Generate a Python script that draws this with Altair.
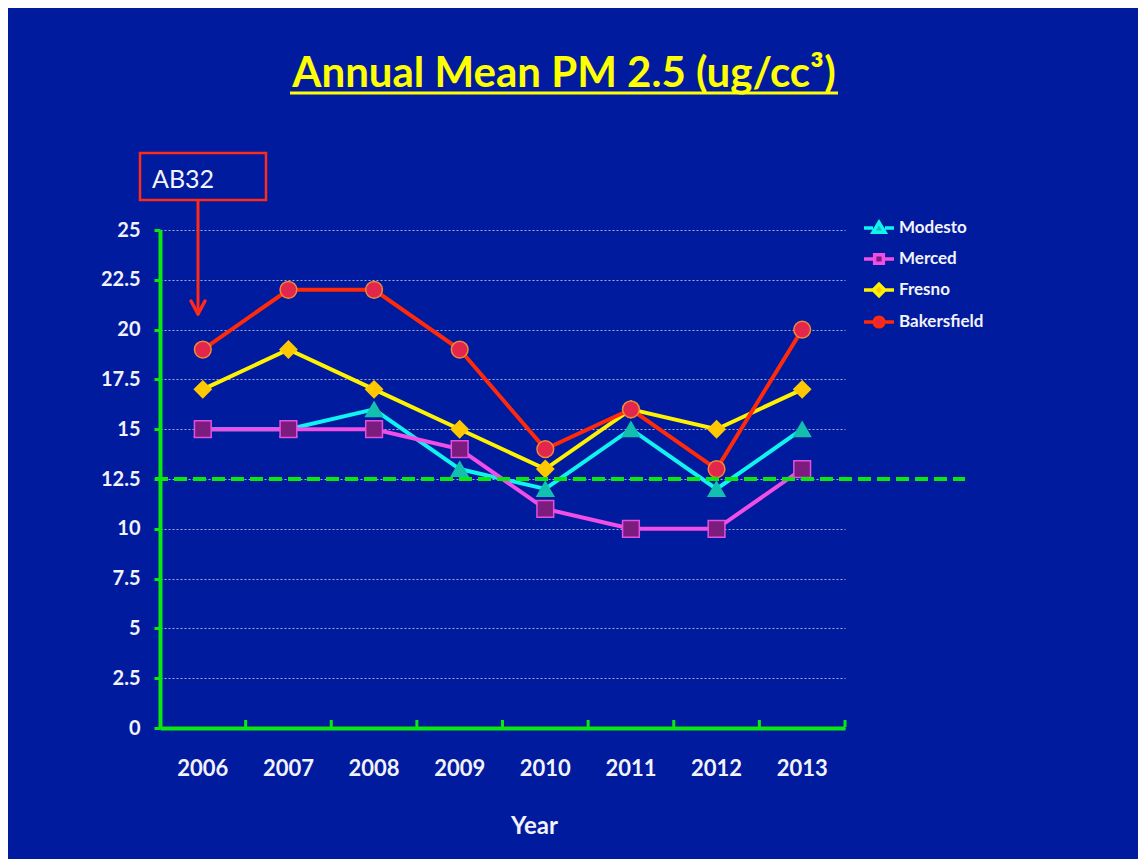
import altair as alt
import pandas as pd

# ---- data ----
years = ["2006", "2007", "2008", "2009", "2010", "2011", "2012", "2013"]
series = ["Modesto", "Merced", "Fresno", "Bakersfield"]
modesto = [15, 15, 16, 13, 12, 15, 12, 15]
merced = [15, 15, 15, 14, 11, 10, 10, 13]
fresno = [17, 19, 17, 15, 13, 16, 15, 17]
bakersfield = [19, 22, 22, 19, 14, 16, 13, 20]
standard = [12.5]
y_ticks = [0, 2.5, 5, 7.5, 10, 12.5, 15, 17.5, 20, 22.5, 25]
title_text = ["Annual Mean PM 2.5 (ug/cc³)"]
note_text = ["AB32"]
x_title = "Year"

# ---- styles ----
BG = "#011B9E"
GREEN = "#0BE80B"
WHITE = "#F2F2FA"
RED = "#FF2A1A"
FONT = "Lato"
line_colors = ["#12F2EE", "#F24EE6", "#FFF200", "#FF2A0A"]
marker_fills = ["#13BFAF", "#7C1C7E", "#FFC800", "#E2264C"]
marker_strokes = ["#13BFAF", "#E64EE0", "#FFC800", "#F08838"]
shapes = ["triangle-up", "square", "diamond", "circle"]
legend_paths = [
    "M-1,0H-0.4M0.4,0H1M0,-0.38L0.4,0.28L-0.4,0.28Z",
    "M-1,0H-0.3M0.3,0H1M-0.29,-0.29H0.29V0.29H-0.29Z",
    "M-1,0H-0.38M0.38,0H1M-0.38,0L0,-0.38L0.38,0L0,0.38Z",
    "M-1,0H-0.32M0.32,0H1M-0.32,0A0.32,0.32,0,1,0,0.32,0A0.32,0.32,0,1,0,-0.32,0Z",
]

W, H = 685, 498

df = pd.DataFrame({
    "year": years * 4,
    "series": sum([[s] * len(years) for s in series], []),
    "value": modesto + merced + fresno + bakersfield,
})

x_scale = alt.Scale(domain=years, paddingInner=0, paddingOuter=0)
x_axis = alt.Axis(
    title=x_title, labelAngle=0, labelFont=FONT, labelFontSize=22, labelFontWeight="bold",
    labelColor=WHITE, labelPadding=30, ticks=False, grid=False,
    domainColor=GREEN, domainWidth=4,
    titleFont=FONT, titleFontSize=24, titleFontWeight="bold", titleColor=WHITE,
    titleX=374, titleY=105, titleBaseline="alphabetic",
)
y_scale = alt.Scale(domain=[0, 25], nice=False)
y_axis = alt.Axis(
    title=None, values=y_ticks, labelExpr="'' + datum.value",
    labelFont=FONT, labelFontSize=20, labelFontWeight="bold", labelColor=WHITE, labelPadding=14,
    grid=True, gridColor="#A8AEDC", gridDash=[2, 2], gridWidth=1,
    domainColor=GREEN, domainWidth=4, tickColor=GREEN, tickSize=6, tickWidth=3,
)

legend = alt.Legend(
    title=None, orient="none", legendX=702, legendY=-19, symbolSize=900,
    labelFont=FONT, labelFontSize=17, labelFontWeight="bold", labelColor=WHITE,
    labelOffset=3, rowPadding=2, padding=0, symbolStrokeWidth=3.5, symbolOpacity=1,
)

base = alt.Chart(df).encode(
    x=alt.X("year:N", scale=x_scale, axis=x_axis),
    y=alt.Y("value:Q", scale=y_scale, axis=y_axis),
)

lines = base.mark_line(strokeWidth=4).encode(
    color=alt.Color("series:N", scale=alt.Scale(domain=series, range=line_colors), legend=None)
)

points = base.mark_point(filled=True, size=280, opacity=1, strokeWidth=1.5).encode(
    shape=alt.Shape("series:N", scale=alt.Scale(domain=series, range=shapes), legend=None),
    fill=alt.Fill("series:N", scale=alt.Scale(domain=series, range=marker_fills), legend=None),
    stroke=alt.Stroke("series:N", scale=alt.Scale(domain=series, range=marker_strokes), legend=None),
)

# legend-only layer (draws nothing itself)
legend_layer = base.mark_point(filled=True, opacity=1, strokeWidth=3).encode(
    shape=alt.Shape("series:N", scale=alt.Scale(domain=series, range=legend_paths), legend=legend),
    fill=alt.Fill("series:N", scale=alt.Scale(domain=series, range=marker_fills), legend=legend),
    stroke=alt.Stroke("series:N", scale=alt.Scale(domain=series, range=line_colors), legend=legend),
).transform_filter("false")

std_rule = alt.Chart(pd.DataFrame({"v": standard})).mark_rule(
    color=GREEN, strokeWidth=4, strokeDash=[13, 6]
).encode(y=alt.Y("v:Q", scale=y_scale, axis=y_axis), x=alt.value(-5), x2=alt.value(805))

xticks = alt.Chart(pd.DataFrame({"year": years})).mark_rule(color=GREEN, strokeWidth=3).encode(
    x=alt.X("year:N", bandPosition=1, scale=x_scale, axis=x_axis),
    y=alt.value(497), y2=alt.value(490),
)

note_df = pd.DataFrame({"t": note_text})
note_box = alt.Chart(note_df).mark_rect(fillOpacity=0, stroke=RED, strokeWidth=2.5).encode(
    x=alt.value(-20), x2=alt.value(106), y=alt.value(-77), y2=alt.value(-30)
)
note_label = alt.Chart(note_df).mark_text(
    align="left", baseline="alphabetic", font=FONT, fontSize=25, color=WHITE
).encode(text="t:N", x=alt.value(-8), y=alt.value(-42))
arrow_shaft = alt.Chart(note_df).mark_rule(color=RED, strokeWidth=3).encode(
    x=alt.value(38), y=alt.value(-30), y2=alt.value(83)
)
arrow_l = alt.Chart(note_df).mark_rule(color=RED, strokeWidth=3.5, strokeCap="round").encode(
    x=alt.value(31), x2=alt.value(38), y=alt.value(71), y2=alt.value(84)
)
arrow_r = alt.Chart(note_df).mark_rule(color=RED, strokeWidth=3.5, strokeCap="round").encode(
    x=alt.value(45), x2=alt.value(38), y=alt.value(71), y2=alt.value(84)
)

title_df = pd.DataFrame({"t": title_text})
title_mark = alt.Chart(title_df).mark_text(
    align="center", baseline="alphabetic", font=FONT, fontSize=42, fontWeight="bold", color="#FFFF00"
).encode(text="t:N", x=alt.value(404), y=alt.value(-143))
underline = alt.Chart(title_df).mark_rule(color="#FFFF00", strokeWidth=3).encode(
    x=alt.value(130), x2=alt.value(678), y=alt.value(-137)
)

chart = alt.layer(
    lines, points, legend_layer, std_rule, xticks, note_box, note_label, arrow_shaft, arrow_l, arrow_r,
    title_mark, underline,
).resolve_scale(
    shape="independent", fill="independent", stroke="independent"
).properties(
    width=W, height=H,
    autosize=alt.AutoSizeParams(type="none"),
    padding={"left": 152, "top": 222, "right": 293, "bottom": 131},
    background=BG,
).configure(font=FONT).configure_view(stroke="transparent", strokeWidth=0)

chart.save("out.html", embed_options={"renderer": "svg", "actions": False})
